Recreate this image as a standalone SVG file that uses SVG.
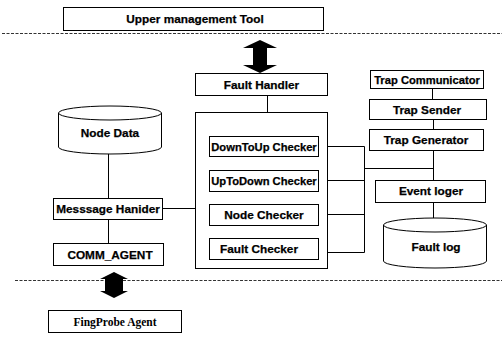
<svg xmlns="http://www.w3.org/2000/svg" width="502" height="340" viewBox="0 0 502 340">
  <style>
    .box { fill: #fff; stroke: #000; stroke-width: 1; }
    .lbl { font-family: "Liberation Sans", Arial, sans-serif; font-weight: bold; font-size: 11.8px; fill: #000; stroke: #000; stroke-width: 0.25; text-anchor: middle; }
    .tight { font-size: 11.2px; }
    .serif { font-family: "Liberation Serif", "Times New Roman", serif; font-weight: bold; font-size: 11.5px; fill: #000; text-anchor: middle; }
    .wire { fill: none; stroke: #000; stroke-width: 1; }
    .sep { fill: none; stroke: #333; stroke-width: 1; stroke-dasharray: 3 1.5; }
    .dbl { fill: #000; stroke: none; }
  </style>
  <rect width="502" height="340" fill="#fff"/>

  <!-- layer separators -->
  <line class="sep" x1="2" y1="33.5" x2="502" y2="33.5"/>
  <line class="sep" x1="15" y1="280.5" x2="502" y2="280.5"/>

  <!-- connectors -->
  <g id="connectors">
    <!-- big double arrow: upper tool <-> fault handler -->
    <polygon class="dbl" points="260,40 277,48 267,48 267,65 277,65 260,73 243,65 253,65 253,48 243,48"/>
    <!-- small double arrow: COMM_AGENT <-> probe agent -->
    <polygon class="dbl" points="114,272 128,279 123,279 123,291 128,291 114,298 100,291 105,291 105,279 100,279"/>
    <path class="wire" d="M267.5,95 V136"/>
    <path class="wire" d="M108.5,154 V198"/>
    <path class="wire" d="M108.5,220 V243"/>
    <path class="wire" d="M162,208.5 H195"/>
    <path class="wire" d="M432.5,88 V99"/>
    <path class="wire" d="M433.5,120 V129"/>
    <path class="wire" d="M433.5,151 V180"/>
    <path class="wire" d="M433.5,202 V218"/>
    <path class="wire" d="M318,146.5 H364.5 V252.5 H320"/>
    <path class="wire" d="M318,180.5 H364.5"/>
    <path class="wire" d="M318,214.5 H364.5"/>
    <path class="wire" d="M364.5,168.5 H433.5"/>
  </g>

  <g id="upper-tool">
    <rect class="box" x="63.5" y="7.5" width="260" height="23"/>
    <text class="lbl" x="195" y="23">Upper management Tool</text>
  </g>

  <g id="fault-handler">
    <rect class="box" x="195.5" y="73.5" width="132" height="22"/>
    <text class="lbl" x="261.5" y="88.5">Fault Handler</text>
  </g>

  <g id="checker-group">
    <rect class="box" x="195.5" y="112.5" width="132" height="156"/>
  </g>

  <g id="downtoup-checker">
    <rect class="box" x="209.5" y="136.5" width="109" height="20"/>
    <text class="lbl tight" x="264" y="150.5">DownToUp Checker</text>
  </g>
  <g id="uptodown-checker">
    <rect class="box" x="209.5" y="170.5" width="109" height="21"/>
    <text class="lbl tight" x="264" y="185">UpToDown Checker</text>
  </g>
  <g id="node-checker">
    <rect class="box" x="209.5" y="204.5" width="109" height="21"/>
    <text class="lbl" x="264" y="219">Node Checker</text>
  </g>
  <g id="fault-checker">
    <rect class="box" x="209.5" y="238.5" width="109" height="21"/>
    <text class="lbl" x="259" y="253">Fault Checker</text>
  </g>

  <g id="node-data">
    <path class="box" d="M58.5,113 A51.5,7 0 0,1 161.5,113 V147 A51.5,7 0 0,1 58.5,147 Z"/>
    <path class="wire" d="M58.5,113 A51.5,7 0 0,0 161.5,113"/>
    <text class="lbl" x="110" y="137">Node Data</text>
  </g>

  <g id="message-handler">
    <rect class="box" x="53.5" y="198.5" width="109" height="21"/>
    <text class="lbl" x="108" y="213">Messsage Hanider</text>
  </g>

  <g id="comm-agent">
    <rect class="box" x="53.5" y="243.5" width="110" height="22"/>
    <text class="lbl" x="110" y="258.5">COMM_AGENT</text>
  </g>

  <g id="probe-agent">
    <rect class="box" x="48.5" y="310.5" width="133" height="22"/>
    <text class="serif" x="115" y="325.5">FingProbe Agent</text>
  </g>

  <g id="trap-communicator">
    <rect class="box" x="370.5" y="70.5" width="113" height="18"/>
    <text class="lbl tight" x="427" y="83.5">Trap Communicator</text>
  </g>
  <g id="trap-sender">
    <rect class="box" x="369.5" y="99.5" width="117" height="20"/>
    <text class="lbl" x="427" y="113.5">Trap Sender</text>
  </g>
  <g id="trap-generator">
    <rect class="box" x="369.5" y="129.5" width="114" height="21"/>
    <text class="lbl" x="426" y="144">Trap Generator</text>
  </g>
  <g id="event-logger">
    <rect class="box" x="375.5" y="180.5" width="110" height="22"/>
    <text class="lbl" x="431" y="195">Event loger</text>
  </g>

  <g id="fault-log">
    <path class="box" d="M383.5,225 A51.5,7 0 0,1 486.5,225 V261 A51.5,7 0 0,1 383.5,261 Z"/>
    <path class="wire" d="M383.5,225 A51.5,7 0 0,0 486.5,225"/>
    <text class="lbl" x="436" y="251">Fault log</text>
  </g>
</svg>
